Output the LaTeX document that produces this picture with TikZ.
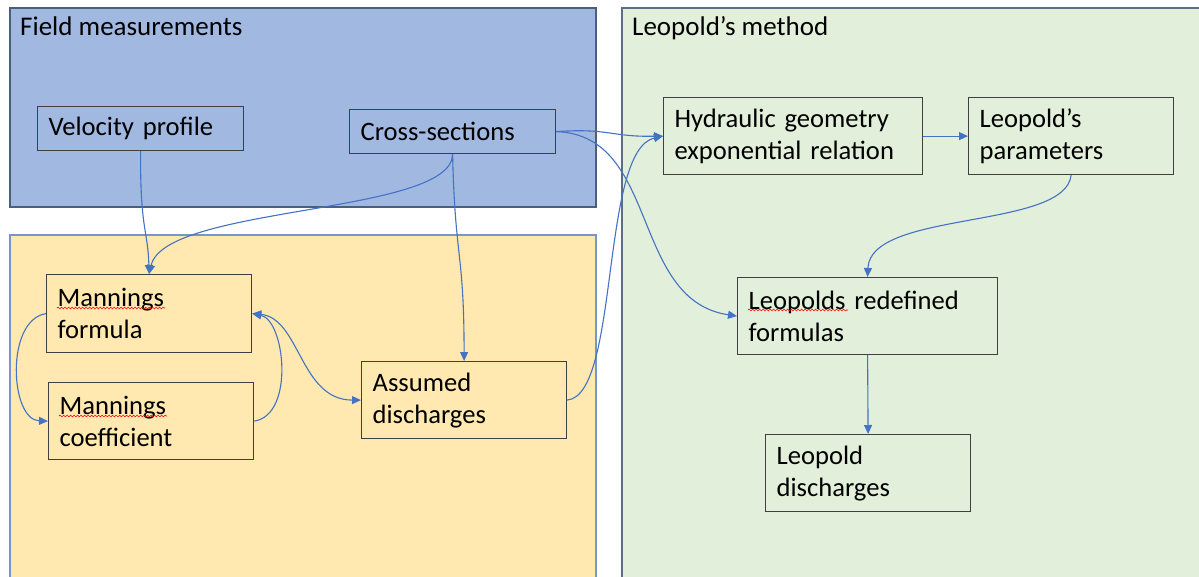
\documentclass[tikz,border=0pt]{standalone}
\usepackage{fontspec}
\setmainfont{Carlito}
\usetikzlibrary{arrows.meta,decorations.pathmorphing}
\definecolor{bluefill}{HTML}{A1B8E1}
\definecolor{blueline}{HTML}{4A5F7C}
\definecolor{yellowfill}{HTML}{FFE9B1}
\definecolor{yellowline}{HTML}{7A95C8}
\definecolor{greenfill}{HTML}{E2EFDA}
\definecolor{greenline}{HTML}{5E6E80}
\definecolor{boxline}{HTML}{3F3F3F}
\definecolor{conn}{HTML}{4472C4}
\begin{document}
\begin{tikzpicture}[x=1pt,y=-1pt,
  panel/.style={line width=1.3pt},
  boxnode/.style={draw=boxline, line width=1.2pt, anchor=north west, inner xsep=11pt, inner ysep=0pt,
    align=left, font=\fontsize{26.6}{32}\selectfont},
  title/.style={anchor=base west, inner sep=0pt, font=\fontsize{27}{30}\selectfont},
  arr/.style={draw=conn, line width=1.1pt, -{Triangle[length=9pt,width=8pt]}},
  darr/.style={draw=conn, line width=1.1pt, {Triangle[length=9pt,width=8pt]}-{Triangle[length=9pt,width=8pt]}},
  squig/.style={draw=red, line width=0.6pt, decorate, decoration={snake, amplitude=0.9pt, segment length=3.5pt}}
]
\useasboundingbox (0,0) rectangle (1199,576);
\clip (0,0) rectangle (1199,576);
% panels
\fill[white] (0,0) rectangle (1199,576);
\draw[panel, fill=bluefill, draw=blueline] (10,8) rectangle (596,207);
\draw[panel, fill=yellowfill, draw=yellowline] (10,235) rectangle (596,600);
\draw[panel, fill=greenfill, draw=greenline] (622,8) rectangle (1220,600);
\node[title] (t1) at (20,35) {Field measurements};
\node[title] (t2) at (632,35) {Leopold’s method};
% boxes
\node[boxnode, text width=184pt, minimum height=44pt] (vp) at (37,106) {Velocity profile};
\node[boxnode, text width=184pt, minimum height=44pt] (cs) at (349,109) {Cross-sections};
\node[boxnode, text width=183pt, minimum height=78pt] (mf) at (46,274) {Mannings\\formula};
\node[boxnode, text width=183pt, minimum height=77pt] (mc) at (48,382) {Mannings\\coefficient};
\node[boxnode, text width=183pt, minimum height=77pt] (ad) at (361,361) {Assumed\\discharges};
\node[boxnode, text width=237pt, minimum height=77pt] (hg) at (663,97) {Hydraulic geometry\\exponential relation};
\node[boxnode, text width=183pt, minimum height=77pt] (lp) at (968,97) {Leopold’s\\parameters};
\node[boxnode, text width=238pt, minimum height=77pt] (lr) at (737,277) {Leopolds redefined\\formulas};
\node[boxnode, text width=183pt, minimum height=77pt] (ld) at (765,434) {Leopold\\discharges};
% spell-check underlines
\draw[squig] ([xshift=11pt,yshift=-34pt]mf.north west) -- ++(108,0);
\draw[squig] ([xshift=11pt,yshift=-34pt]mc.north west) -- ++(108,0);
\draw[squig] ([xshift=11pt,yshift=-33pt]lr.north west) -- ++(100,0);
% connectors
\draw[arr] (vp.south) .. controls (140,230) and (148,230) .. (mf.north);
\draw[arr] (cs.south) .. controls (452,215) and (165,205) .. (mf.north);
\draw[arr] (cs.south) .. controls (455,260) and (464,250) .. (ad.north);
\draw[arr] (mf.west) .. controls (5,320) and (10,420) .. (mc.west);
\draw[arr] (mc.east) .. controls (295,415) and (285,320) .. (mf.east);
\draw[darr] (mf.east) .. controls (300,318) and (300,400) .. (ad.west);
\draw[arr] (ad.east) .. controls (620,395) and (600,150) .. (hg.west);
\draw[arr] (cs.east) .. controls (610,128) and (610,137) .. (hg.west);
\draw[arr] (cs.east) .. controls (660,135) and (630,300) .. (lr.west);
\draw[arr] (hg.east) -- (lp.west);
\draw[arr] (lp.south) .. controls (1065,230) and (870,210) .. (lr.north);
\draw[arr] (lr.south) -- (ld.north);
\end{tikzpicture}
\end{document}
